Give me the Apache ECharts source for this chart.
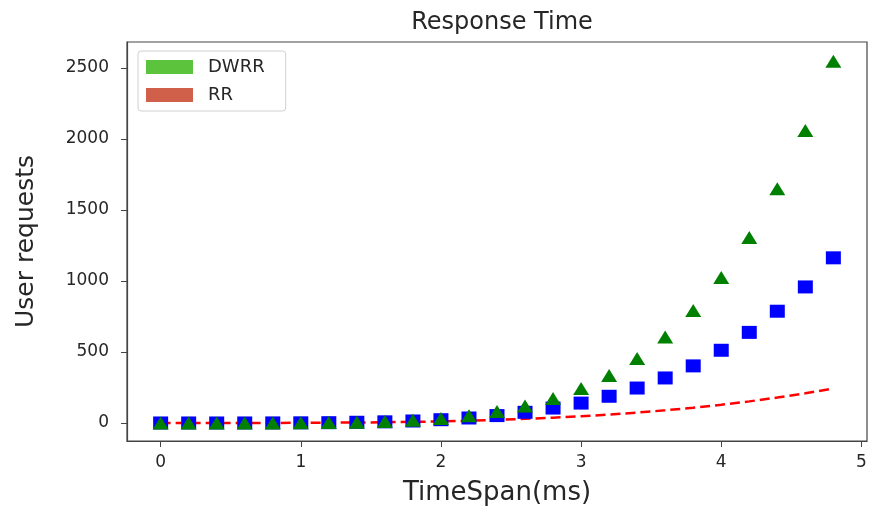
<!DOCTYPE html>
<html>
<head>
    <meta charset="utf-8">
    <title>Response Time</title>
    <script src="https://cdn.jsdelivr.net/npm/echarts@6/dist/echarts.min.js"></script>
    <style>
        body { margin: 0; background: #fff; }
    </style>
</head>
<body>
    <div id="main" style="width: 870px;height:512px;"></div>
    <script type="text/javascript">
        var myChart = echarts.init(document.getElementById('main'));

        // time points (ms)
        const timeSpan = [0, 0.2, 0.4, 0.6, 0.8, 1.0, 1.2, 1.4, 1.6, 1.8, 2.0, 2.2, 2.4,
            2.6, 2.8, 3.0, 3.2, 3.4, 3.6, 3.8, 4.0, 4.2, 4.4, 4.6, 4.8]
        // red dashed curve
        const redLine = [0, 0, 0, 0.2, 0.5, 1, 2, 3, 5, 8, 11, 16, 22,
            29, 37, 47, 59, 73, 89, 107, 128, 152, 179, 209, 243]
        // blue squares
        const blueSquares = [0, 0, 0, 0.1, 0.4, 1, 2, 5, 8, 14, 23, 35, 52,
            75, 105, 140, 188, 246, 317, 402, 512, 638, 787, 958, 1163]
        // green triangles
        const greenTriangles = [0, 0, 0, 0.1, 0.3, 1, 2.5, 5, 11, 19, 32, 51, 80,
            119, 172, 243, 335, 454, 605, 792, 1024, 1307, 1649, 2060, 2548]
        const legendNames = ['DWRR', 'RR']
        const legendColors = ['#5cc43c', '#d0604a']

        const pairs = (ys) => timeSpan.map((t, i) => [t, ys[i]])

        const axisFont = { fontFamily: 'DejaVu Sans', fontSize: 17, color: '#262626' }

        var option = {
            animation: false,
            title: {
                text: 'Response Time',
                left: 497,
                textAlign: 'center',
                top: 6,
                textStyle: { fontFamily: 'DejaVu Sans', fontSize: 24, fontWeight: 'normal', color: '#262626' }
            },
            legend: {
                data: legendNames,
                left: 138,
                top: 51,
                orient: 'vertical',
                icon: 'rect',
                itemWidth: 47,
                itemHeight: 14,
                itemGap: 10,
                padding: [7, 21, 7, 8],
                borderColor: '#d0d0d0',
                borderWidth: 1,
                borderRadius: 3,
                backgroundColor: '#fff',
                textStyle: { fontFamily: 'DejaVu Sans', fontSize: 18, color: '#262626', padding: [0, 0, 0, 10] }
            },
            grid: {
                left: 127,
                top: 42,
                width: 740,
                height: 399,
                show: true,
                borderColor: '#444',
                borderWidth: 1.2,
                containLabel: false
            },
            xAxis: {
                type: 'value',
                min: -0.24,
                max: 5.04,
                splitNumber: 5,
                name: 'TimeSpan(ms)',
                nameLocation: 'middle',
                nameGap: 39,
                nameTextStyle: { fontFamily: 'DejaVu Sans', fontSize: 26, color: '#262626' },
                axisLine: { onZero: false, lineStyle: { color: '#444', width: 1.2 } },
                axisTick: { show: true, length: 6, lineStyle: { color: '#444' } },
                axisLabel: Object.assign({ showMinLabel: false, showMaxLabel: false, margin: 13 }, axisFont),
                splitLine: { show: false }
            },
            yAxis: {
                type: 'value',
                min: -127,
                max: 2683,
                splitNumber: 6,
                name: 'User requests',
                nameLocation: 'middle',
                nameGap: 88,
                nameTextStyle: { fontFamily: 'DejaVu Sans', fontSize: 25, color: '#262626' },
                axisLine: { show: true, onZero: false, lineStyle: { color: '#444', width: 1.2 } },
                axisTick: { show: true, length: 6, lineStyle: { color: '#444' } },
                axisLabel: Object.assign({
                    showMinLabel: false, showMaxLabel: false, margin: 18,
                    formatter: (v) => String(v)
                }, axisFont),
                splitLine: { show: false }
            },
            series: [
                {
                    name: 'RR',
                    type: 'scatter',
                    data: [],
                    itemStyle: { color: legendColors[1], opacity: 1 }
                },
                {
                    name: 'DWRR',
                    type: 'scatter',
                    data: [],
                    itemStyle: { color: legendColors[0], opacity: 1 }
                },
                {
                    name: 'red',
                    type: 'line',
                    data: pairs(redLine),
                    showSymbol: false,
                    smooth: false,
                    lineStyle: { color: '#ff0000', width: 2.5, type: [10, 5] },
                    z: 2
                },
                {
                    name: 'blue',
                    type: 'scatter',
                    data: pairs(blueSquares),
                    symbol: 'rect',
                    symbolSize: [15, 13],
                    itemStyle: { color: '#0000ff', opacity: 1 },
                    z: 3
                },
                {
                    name: 'green',
                    type: 'scatter',
                    data: pairs(greenTriangles),
                    symbol: 'triangle',
                    symbolSize: [16, 13],
                    itemStyle: { color: '#008000', opacity: 1 },
                    z: 4
                }
            ]
        };

        myChart.setOption(option);
    </script>
</body>
</html>
